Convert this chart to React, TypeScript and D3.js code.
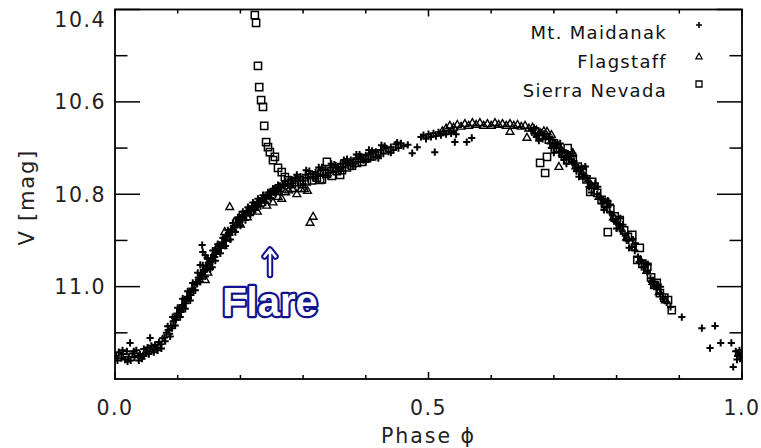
import React from "react";
import * as d3 from "d3";

// ---------- data: [phase, V mag] ----------
const maidanak: [number, number][] = [
  [0.002,11.150],[0.006,11.142],[0.010,11.155],[0.013,11.146],[0.016,11.158],[0.019,11.140],[0.022,11.152],[0.024,11.122],[0.025,11.160],
  [0.028,11.145],[0.031,11.153],[0.034,11.138],[0.037,11.150],[0.040,11.146],[0.043,11.156],[0.046,11.135],[0.049,11.143],[0.052,11.132],
  [0.055,11.140],[0.056,11.111],[0.058,11.128],[0.061,11.136],[0.064,11.126],[0.067,11.132],[0.070,11.120],[0.073,11.125],[0.076,11.112],
  [0.004,11.160],[0.012,11.138],[0.020,11.162],[0.030,11.140],[0.038,11.160],[0.046,11.150],[0.054,11.146],[0.062,11.142],[0.068,11.138],[0.074,11.134],
  [0.079,11.110],[0.082,11.100],[0.085,11.094],[0.087,11.102],[0.089,11.085],[0.091,11.090],[0.093,11.075],[0.095,11.068],[0.097,11.072],
  [0.099,11.058],[0.101,11.062],[0.103,11.050],[0.105,11.055],[0.107,11.040],[0.109,11.045],[0.111,11.030],[0.113,11.036],[0.115,11.022],
  [0.117,11.026],[0.119,11.012],[0.121,11.018],[0.123,11.004],[0.125,11.008],[0.127,10.996],[0.129,10.990],[0.131,10.994],[0.133,10.980],
  [0.135,10.984],[0.137,10.972],[0.139,10.976],[0.141,10.964],[0.143,10.968],[0.145,10.955],[0.147,10.960],[0.149,10.948],[0.151,10.952],
  [0.153,10.940],[0.155,10.944],[0.157,10.932],[0.159,10.936],[0.161,10.926],[0.163,10.920],[0.165,10.924],[0.167,10.912],[0.169,10.916],
  [0.171,10.904],[0.173,10.908],[0.175,10.896],[0.177,10.900],[0.179,10.890],[0.181,10.884],[0.183,10.888],[0.185,10.876],[0.187,10.880],
  [0.189,10.868],[0.191,10.872],[0.193,10.862],[0.195,10.866],[0.197,10.856],[0.199,10.860],[0.201,10.850],[0.203,10.854],[0.205,10.846],
  [0.207,10.842],[0.209,10.846],[0.211,10.836],[0.213,10.840],[0.215,10.832],[0.217,10.836],[0.219,10.826],[0.221,10.830],[0.223,10.822],
  [0.225,10.826],[0.227,10.818],[0.229,10.822],[0.231,10.814],[0.233,10.818],[0.235,10.810],[0.237,10.813],[0.239,10.806],[0.241,10.809],
  [0.243,10.802],[0.245,10.805],[0.247,10.797],[0.249,10.800],[0.251,10.793],[0.253,10.796],[0.255,10.789],[0.257,10.792],[0.259,10.786],
  [0.261,10.789],[0.263,10.782],[0.265,10.786],[0.267,10.779],[0.269,10.782],
  [0.080,11.118],[0.084,11.086],[0.088,11.108],[0.092,11.066],[0.096,11.084],[0.100,11.046],[0.104,11.066],[0.108,11.026],[0.112,11.048],
  [0.116,11.010],[0.120,11.030],[0.124,10.992],[0.128,11.008],[0.132,10.970],[0.136,10.990],[0.140,10.954],[0.144,10.978],[0.148,10.940],
  [0.152,10.962],[0.156,10.922],[0.160,10.944],[0.164,10.908],[0.168,10.928],[0.172,10.894],[0.176,10.912],[0.180,10.878],[0.184,10.898],
  [0.188,10.862],[0.192,10.882],[0.196,10.850],[0.200,10.868],[0.204,10.838],[0.208,10.856],[0.212,10.828],[0.216,10.844],[0.220,10.818],
  [0.224,10.834],[0.228,10.810],[0.232,10.826],[0.236,10.802],[0.240,10.818],[0.244,10.796],[0.248,10.808],[0.252,10.788],[0.256,10.800],
  [0.260,10.780],[0.264,10.794],
  [0.136,10.953],[0.139,10.910],[0.140,10.925],[0.144,10.932],[0.147,10.938],[0.152,10.947],[0.155,10.958],
  [0.272,10.772],[0.276,10.780],[0.280,10.768],[0.284,10.776],[0.288,10.764],[0.292,10.772],[0.296,10.762],[0.300,10.770],[0.304,10.758],
  [0.308,10.766],[0.312,10.756],[0.316,10.764],[0.320,10.752],[0.324,10.760],[0.328,10.748],[0.332,10.758],[0.336,10.746],[0.340,10.754],
  [0.344,10.742],[0.348,10.750],[0.352,10.738],[0.356,10.746],[0.360,10.734],[0.364,10.742],[0.368,10.730],[0.372,10.738],[0.376,10.726],
  [0.380,10.734],[0.384,10.722],[0.388,10.730],[0.392,10.718],[0.396,10.726],[0.400,10.716],[0.404,10.724],[0.408,10.712],[0.412,10.720],
  [0.416,10.708],[0.420,10.716],[0.424,10.704],[0.428,10.712],[0.432,10.700],[0.436,10.708],[0.440,10.698],[0.444,10.704],[0.448,10.692],
  [0.452,10.700],[0.456,10.690],[0.460,10.696],
  [0.280,10.782],[0.290,10.758],[0.300,10.778],[0.310,10.750],[0.320,10.766],[0.330,10.742],[0.340,10.760],[0.350,10.736],[0.360,10.748],
  [0.370,10.724],[0.380,10.740],[0.390,10.714],[0.400,10.730],[0.410,10.706],[0.420,10.722],[0.430,10.696],[0.440,10.710],[0.450,10.688],
  [0.305,10.748],[0.325,10.742],[0.345,10.734],[0.365,10.726],[0.385,10.714],[0.405,10.704],[0.425,10.694],
  [0.467,10.693],[0.474,10.711],[0.482,10.698],[0.510,10.709],[0.542,10.687],[0.561,10.687],[0.569,10.678],
  [0.488,10.676],[0.492,10.672],[0.496,10.680],[0.500,10.670],[0.504,10.676],[0.508,10.668],[0.512,10.674],[0.516,10.666],[0.520,10.672],
  [0.524,10.664],[0.528,10.670],[0.532,10.662],[0.536,10.668],[0.540,10.664],[0.544,10.670],
  [0.664,10.662],[0.670,10.668],[0.676,10.672],[0.682,10.680],[0.688,10.676],[0.694,10.690],[0.699,10.694],[0.704,10.700],[0.709,10.708],
  [0.714,10.706],[0.719,10.718],[0.724,10.724],[0.729,10.730],[0.734,10.738],[0.739,10.742],[0.744,10.756],[0.749,10.760],[0.754,10.772],
  [0.759,10.780],[0.764,10.786],[0.769,10.800],[0.774,10.808],[0.779,10.816],[0.784,10.828],[0.789,10.838],[0.794,10.846],[0.799,10.860],
  [0.804,10.866],[0.809,10.880],[0.814,10.890],[0.819,10.900],[0.824,10.914],[0.829,10.922],[0.834,10.936],[0.839,10.944],[0.844,10.958],
  [0.849,10.968],[0.854,10.982],[0.859,10.990],[0.864,11.004],[0.869,11.014],[0.874,11.026],[0.880,11.034],[0.886,11.044],[0.904,11.066],
  [0.672,10.676],[0.680,10.666],[0.692,10.680],[0.702,10.688],[0.712,10.716],[0.722,10.712],[0.732,10.728],[0.742,10.748],[0.752,10.764],
  [0.668,10.656],[0.676,10.684],[0.684,10.670],[0.696,10.700],[0.706,10.692],[0.716,10.726],[0.726,10.716],[0.736,10.750],[0.746,10.744],
  [0.756,10.784],[0.766,10.776],[0.776,10.820],[0.786,10.814],[0.796,10.858],[0.806,10.852],[0.816,10.900],[0.826,10.898],[0.836,10.946],
  [0.846,10.950],[0.856,10.990],[0.866,10.996],
  [0.700,10.710],[0.710,10.690],[0.720,10.734],[0.730,10.712],[0.740,10.762],[0.750,10.740],[0.760,10.796],[0.770,10.784],[0.780,10.834],
  [0.790,10.822],[0.800,10.874],[0.810,10.866],[0.820,10.916],[0.830,10.906],[0.840,10.958],[0.850,10.952],[0.860,11.000],[0.870,11.000],
  [0.936,11.090],[0.957,11.085],[0.949,11.133],[0.966,11.122],[0.983,11.122],[0.986,11.174],[0.990,11.140],[0.993,11.150],[0.995,11.144],
  [0.997,11.156],[0.999,11.147],[0.992,11.158],[0.996,11.138],
];

const flagstaff: [number, number][] = [
  [0.144,10.986],[0.148,10.970],[0.160,10.925],[0.163,10.915],[0.172,10.912],[0.179,10.896],[0.189,10.877],[0.200,10.866],[0.211,10.850],
  [0.227,10.838],[0.242,10.825],[0.252,10.818],[0.260,10.806],[0.266,10.810],[0.272,10.796],[0.277,10.792],[0.283,10.789],[0.290,10.800],
  [0.297,10.789],[0.302,10.789],[0.307,10.793],
  [0.183,10.828],[0.175,10.882],[0.316,10.849],[0.311,10.862],
  [0.522,10.664],[0.528,10.658],[0.534,10.652],[0.540,10.656],[0.546,10.650],[0.552,10.654],[0.558,10.648],[0.564,10.652],[0.570,10.646],
  [0.576,10.650],[0.582,10.646],[0.588,10.652],[0.594,10.648],[0.600,10.652],[0.606,10.646],[0.612,10.650],[0.618,10.648],[0.624,10.652],
  [0.630,10.648],[0.636,10.652],[0.642,10.650],[0.648,10.654],[0.654,10.652],[0.660,10.658],[0.666,10.656],[0.672,10.662],[0.678,10.668],
  [0.684,10.664],[0.690,10.676],[0.696,10.672],[0.630,10.665],[0.657,10.678],[0.689,10.665],[0.708,10.741],[0.730,10.711],
  [0.700,10.690],[0.712,10.705],[0.722,10.716],[0.735,10.740],[0.748,10.762],[0.760,10.782],[0.772,10.806],[0.782,10.824],[0.795,10.850],
  [0.806,10.872],[0.816,10.894],[0.826,10.916],[0.838,10.944],[0.848,10.966],[0.858,10.990],[0.868,11.012],[0.878,11.030],
];

const sierraNevada: [number, number][] = [
  [0.195,10.860],[0.204,10.845],[0.215,10.838],
  [0.223,10.412],[0.225,10.429],[0.228,10.522],[0.230,10.568],[0.233,10.596],[0.236,10.611],[0.238,10.652],[0.241,10.687],[0.244,10.698],
  [0.247,10.709],[0.252,10.726],[0.255,10.719],[0.260,10.743],[0.266,10.752],[0.271,10.763],
  [0.276,10.770],[0.282,10.778],[0.290,10.774],[0.298,10.778],[0.306,10.772],[0.314,10.770],[0.322,10.764],[0.327,10.769],[0.330,10.768],
  [0.338,10.756],[0.346,10.760],[0.354,10.750],[0.359,10.758],[0.362,10.748],[0.370,10.742],[0.378,10.738],[0.386,10.732],[0.394,10.730],
  [0.402,10.722],[0.410,10.718],[0.418,10.712],[0.338,10.730],
  [0.678,10.732],[0.689,10.719],[0.686,10.754],[0.786,10.882],
  [0.670,10.664],[0.680,10.672],[0.692,10.682],[0.700,10.690],[0.706,10.700],[0.714,10.712],[0.722,10.700],[0.730,10.726],[0.738,10.740],
  [0.746,10.747],[0.752,10.768],[0.758,10.795],[0.761,10.773],[0.769,10.797],[0.776,10.812],[0.782,10.818],[0.790,10.832],[0.797,10.848],
  [0.805,10.856],[0.812,10.878],[0.818,10.892],[0.825,10.888],[0.833,10.942],[0.837,10.916],[0.841,10.950],[0.849,10.957],[0.855,10.980],
  [0.860,10.996],[0.864,10.992],[0.869,11.014],[0.876,11.024],[0.882,11.029],[0.888,11.051],
];

const xMajor = [0, 0.5, 1.0];
const xMinor = [0.1, 0.2, 0.3, 0.4, 0.6, 0.7, 0.8, 0.9];
const yMajor = [10.4, 10.6, 10.8, 11.0];
const yMinor = [10.5, 10.7, 10.9, 11.1];
const legendNames = ["Mt. Maidanak", "Flagstaff", "Sierra Nevada"];

// ---------- layout ----------
const W = 761, H = 448;
const L = 115, R = 742, T = 9.5, B = 379;
const FONT = "'DejaVu Sans', sans-serif";
const NAVY = "#12128e";

const x = d3.scaleLinear().domain([0, 1]).range([L, R]);
const y = d3.scaleLinear().domain([10.4, 11.2]).range([T, B]);

const plusPath = (s: number) => `M${-s},0H${s}M0,${-s}V${s}`;
const triPath = (s: number) => `M0,${-s * 1.15}L${s},${s * 0.6}L${-s},${s * 0.6}Z`;
const sqPath = (s: number) => `M${-s},${-s}H${s}V${s}H${-s}Z`;

export default function App() {
  return (
    <svg width={W} height={H} style={{ display: "block", position: "absolute", left: 0, top: 0, background: "#fff" }}>
      <defs>
        <clipPath id="plot">
          <rect x={L} y={T} width={R - L} height={B - T} />
        </clipPath>
      </defs>
      <rect width={W} height={H} fill="#fff" />

      {/* data */}
      <g clipPath="url(#plot)" fill="none" stroke="#000">
        {maidanak.map((d, i) => (
          <path key={"m" + i} d={plusPath(3.6)} transform={`translate(${x(d[0])},${y(d[1])})`} strokeWidth={2} />
        ))}
        {flagstaff.map((d, i) => (
          <path key={"f" + i} d={triPath(3.9)} transform={`translate(${x(d[0])},${y(d[1])})`} strokeWidth={1.4} />
        ))}
        {sierraNevada.map((d, i) => (
          <path key={"s" + i} d={sqPath(3.6)} transform={`translate(${x(d[0])},${y(d[1])})`} strokeWidth={1.5} />
        ))}
      </g>

      {/* frame */}
      <rect x={L} y={T} width={R - L} height={B - T} fill="none" stroke="#000" strokeWidth={1.8} />

      {/* ticks */}
      <g stroke="#000" strokeWidth={1.5}>
        {xMajor.map((v) => (
          <g key={"xm" + v}>
            <line x1={x(v)} x2={x(v)} y1={B} y2={B - 7} />
            <line x1={x(v)} x2={x(v)} y1={T} y2={T + 7} />
          </g>
        ))}
        {xMinor.map((v) => (
          <g key={"xn" + v}>
            <line x1={x(v)} x2={x(v)} y1={B} y2={B - 4} />
            <line x1={x(v)} x2={x(v)} y1={T} y2={T + 4} />
          </g>
        ))}
        {yMajor.map((v) => (
          <g key={"ym" + v}>
            <line x1={L} x2={L + 25} y1={y(v)} y2={y(v)} />
            <line x1={R} x2={R - 25} y1={y(v)} y2={y(v)} />
          </g>
        ))}
        {yMinor.map((v) => (
          <g key={"yn" + v}>
            <line x1={L} x2={L + 12.5} y1={y(v)} y2={y(v)} />
            <line x1={R} x2={R - 12.5} y1={y(v)} y2={y(v)} />
          </g>
        ))}
      </g>

      {/* tick labels */}
      <g fontFamily={FONT} fontSize={20.5} fill="#222" letterSpacing={1.5}>
        {xMajor.map((v) => (
          <text key={"xl" + v} x={x(v)} y={415} textAnchor="middle">{d3.format(".1f")(v)}</text>
        ))}
        {yMajor.map((v) => (
          <text key={"yl" + v} x={106} y={Math.max(y(v) + 7.5, 27)} textAnchor="end">{d3.format(".1f")(v)}</text>
        ))}
      </g>

      {/* axis titles */}
      <text x={x(0.5)} y={443} textAnchor="middle" fontFamily={FONT} fontSize={20.5} fill="#222" letterSpacing={2}>
        Phase ϕ
      </text>
      <text transform={`translate(34,${(T + B) / 2 + 3}) rotate(-90)`} textAnchor="middle" fontFamily={FONT} fontSize={21} fill="#222" letterSpacing={1.8}>
        V [mag]
      </text>

      {/* legend */}
      <g fontFamily={FONT} fontSize={18} fill="#111" letterSpacing={1.3}>
        {legendNames.map((n, i) => (
          <text key={n} x={667} y={39 + i * 29} textAnchor="end">{n}</text>
        ))}
      </g>
      <g fill="none" stroke="#000">
        <path d={plusPath(3)} transform="translate(699,25)" strokeWidth={1.6} />
        <path d={triPath(3.2)} transform="translate(699,57)" strokeWidth={1.2} />
        <path d={sqPath(3)} transform="translate(699,84)" strokeWidth={1.3} />
      </g>

      {/* Flare annotation */}
      <g>
        <path d="M270,275V250M264.5,256.5L270,249.5L275.5,256.5" fill="none" stroke={NAVY} strokeWidth={6.5} strokeLinecap="round" strokeLinejoin="round" />
        <path d="M270,275V250M264.5,256.5L270,249.5L275.5,256.5" fill="none" stroke="#fff" strokeWidth={2.5} strokeLinecap="round" strokeLinejoin="round" />
        <text x={270} y={316} textAnchor="middle" fontFamily="'Liberation Sans', Arial, sans-serif" fontWeight="bold" fontSize={40}
          fill="#fff" stroke={NAVY} strokeWidth={4.5} strokeLinejoin="round" style={{ paintOrder: "stroke" }}>
          Flare
        </text>
      </g>
    </svg>
  );
}
